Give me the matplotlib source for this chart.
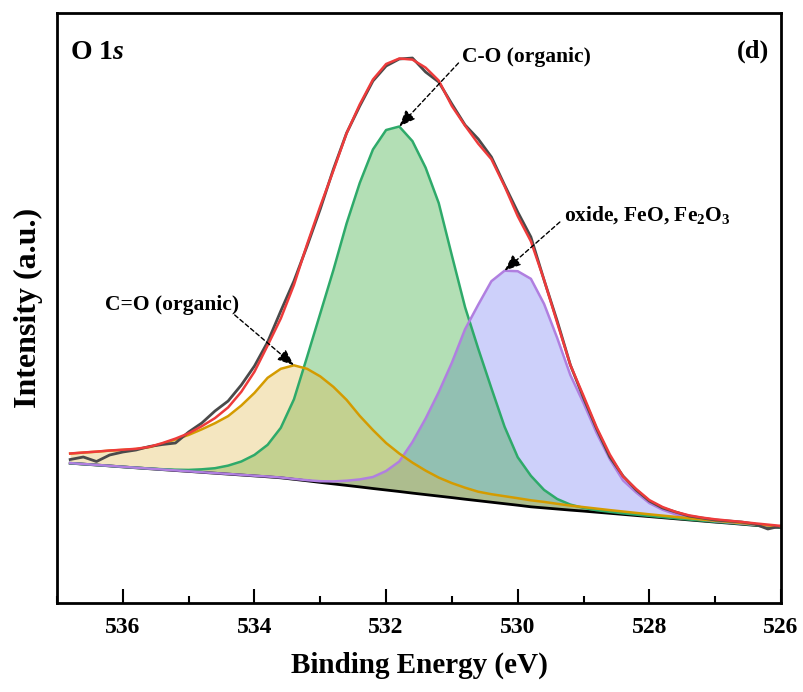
import numpy as np
import matplotlib
matplotlib.use('Agg')
import matplotlib.pyplot as plt
from matplotlib.ticker import MultipleLocator

# fuentes tipo Times en negrita
plt.rcParams['font.family'] = 'Liberation Serif'
plt.rcParams['font.weight'] = 'bold'
plt.rcParams['mathtext.fontset'] = 'custom'
plt.rcParams['mathtext.rm'] = 'Liberation Serif:bold'
plt.rcParams['mathtext.it'] = 'Liberation Serif:italic:bold'
plt.rcParams['mathtext.bf'] = 'Liberation Serif:bold'

# Binding energy (eV)
energy = np.array([536.8, 536.6, 536.4, 536.2, 536.0, 535.8, 535.6, 535.4, 535.2, 535.0,
                   534.8, 534.6, 534.4, 534.2, 534.0, 533.8, 533.6, 533.4, 533.2, 533.0,
                   532.8, 532.6, 532.4, 532.2, 532.0, 531.8, 531.6, 531.4, 531.2, 531.0,
                   530.8, 530.6, 530.4, 530.2, 530.0, 529.8, 529.6, 529.4, 529.2, 529.0,
                   528.8, 528.6, 528.4, 528.2, 528.0, 527.8, 527.6, 527.4, 527.2, 527.0,
                   526.8, 526.6, 526.4, 526.2, 526.0])

# raw spectrum
raw = np.array([143.5, 146, 141.5, 148, 151, 153, 156.5, 158.5, 160, 171,
                180, 192, 202, 218, 237, 261, 292, 322, 357, 394,
                434, 470, 497, 522, 537, 544, 545, 531, 521, 499,
                478, 464, 446, 418, 391, 366, 323, 282, 238, 205,
                174, 146, 127, 113, 102, 95, 91, 87, 85, 83,
                82, 81, 79, 74, 77])

# Shirley background
background = np.array([139.8, 138.9, 138.0, 137.1, 136.1, 135.2, 134.3, 133.4, 132.5, 131.6,
                       130.7, 129.8, 128.9, 128.0, 127.1, 126.2, 125.2, 123.7, 122.2, 120.6,
                       119.1, 117.6, 116.1, 114.5, 113.0, 111.5, 109.9, 108.4, 106.9, 105.4,
                       103.8, 102.3, 100.8, 99.3, 97.8, 96.2, 95.1, 94.0, 92.9, 91.9,
                       90.8, 89.7, 88.6, 87.5, 86.4, 85.3, 84.2, 83.1, 82.0, 80.9,
                       79.9, 78.8, 77.7, 76.6, 75.5])

# componentes (altura sobre el fondo)
c_double_o = np.array([9.6, 11.5, 13.3, 15.3, 17.0, 18.8, 21.5, 26, 31, 36.5,
                       43, 50, 58, 69.5, 83, 99, 109, 114, 112, 106,
                       97, 85.5, 71, 58.5, 47, 38, 30.5, 24, 18.5, 14.5,
                       11.5, 9, 8, 7.5, 7, 6.5, 6, 5.2, 4.5, 4,
                       3.6, 3.2, 2.9, 2.6, 2.3, 2.1, 1.9, 1.7, 1.5, 1.4,
                       1.3, 1.2, 1.1, 1.0, 0.9])
c_single_o = np.array([0.0, 0.0, 0.0, 0.0, 0.1, 0.1, 0.2, 0.4, 0.8, 1.5,
                       3.0, 5.0, 8.5, 13.5, 21, 32, 50, 80, 124, 169,
                       214, 262, 304, 339, 360, 365, 352, 327, 293, 242,
                       192, 152, 114, 77, 48, 31, 18, 10, 5.5, 3.2,
                       2, 1.5, 1.1, 0.9, 0.7, 0.6, 0.5, 0.4, 0.4, 0.3,
                       0.3, 0.3, 0.2, 0.2, 0.2])
oxide = np.array([0.1, 0.1, 0.1, 0.1, 0.1, 0.1, 0.1, 0.1, 0.1, 0.1,
                  0.1, 0.1, 0.2, 0.2, 0.2, 0.3, 0.3, 0.4, 0.6, 1.2,
                  2.5, 4.7, 7.5, 11.5, 19, 30, 51, 76, 104, 135,
                  170, 196, 221, 233, 234, 228, 204, 171, 135, 108,
                  79, 54, 34, 23, 13.5, 8, 4.5, 2.5, 1.5, 1.1,
                  0.9, 0.8, 0.7, 0.6, 0.5])

xticks = [536, 534, 532, 530, 528, 526]

curve_co2 = background + c_double_o
curve_co = background + c_single_o
curve_ox = background + oxide
envelope = background + c_double_o + c_single_o + oxide

fig = plt.figure(figsize=(8.04, 6.92), dpi=100)
ax = fig.add_axes([0.0709, 0.1286, 0.9005, 0.8526])

# rellenos (orden: oxido, C-O, C=O)
ax.fill_between(energy, background, curve_ox, color='#7079F1', alpha=0.35, lw=0)
ax.fill_between(energy, background, curve_co, color='#26A42C', alpha=0.35, lw=0)
ax.fill_between(energy, background, curve_co2, color='#E2B84B', alpha=0.35, lw=0)

ax.plot(energy, background, color='black', lw=2)
ax.plot(energy, curve_co, color='#2EAA6A', lw=1.8)
ax.plot(energy, curve_ox, color='#B07FE0', lw=1.8)
ax.plot(energy, curve_co2, color='#D49B00', lw=1.8)
ax.plot(energy, raw, color='#4a4a4a', lw=2)
ax.plot(energy, envelope, color='#EE3B3B', lw=1.8)

ax.set_xlim(537, 526)
ax.set_ylim(0, 590)
ax.set_xticks(xticks)
ax.xaxis.set_minor_locator(MultipleLocator(1))
ax.set_yticks([])
ax.tick_params(axis='x', which='major', direction='in', length=10, width=1.5,
               labelsize=17, pad=10)
ax.tick_params(axis='x', which='minor', direction='in', length=5, width=1.5)
for s in ax.spines.values():
    s.set_linewidth(2)

ax.set_xlabel('Binding Energy (eV)', fontsize=21, fontweight='bold', labelpad=10)
ax.set_ylabel('Intensity (a.u.)', fontsize=23, fontweight='bold', labelpad=10)

ax.text(0.018, 0.955, 'O 1$s$', transform=ax.transAxes, fontsize=20, va='top', ha='left')
ax.text(0.984, 0.955, '(d)', transform=ax.transAxes, fontsize=19, va='top', ha='right')

# flechas de las etiquetas
arrow = dict(arrowstyle='-|>,head_length=1.0,head_width=0.4', linestyle=(0, (3, 2)),
             color='black', lw=1, shrinkA=0, shrinkB=0)

i = np.argmax(curve_co2)
ax.annotate('', xy=(energy[i], curve_co2[i]), xytext=(534.3, 288), arrowprops=arrow)
ax.text(535.25, 298, 'C=O (organic)', fontsize=15.5, ha='center', va='center')

i = np.argmax(curve_co)
ax.annotate('', xy=(energy[i], curve_co[i]), xytext=(530.9, 540), arrowprops=arrow)
ax.text(530.85, 546, 'C-O (organic)', fontsize=15.5, ha='left', va='center')

i = np.argmax(curve_ox)
ax.annotate('', xy=(energy[i], curve_ox[i]), xytext=(529.36, 381), arrowprops=arrow)
ax.text(529.3, 388, 'oxide, FeO, Fe$_2$O$_3$', fontsize=15.5, ha='left', va='center')

fig.savefig('out.png', dpi=100)
